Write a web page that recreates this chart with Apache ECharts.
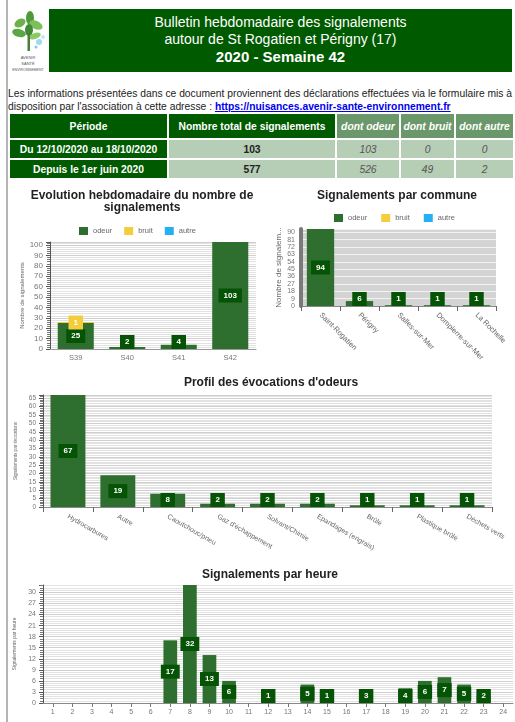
<!DOCTYPE html>
<html><head><meta charset="utf-8">
<script src="https://cdn.jsdelivr.net/npm/echarts/dist/echarts.min.js"></script>
<style>
html,body{margin:0;padding:0;background:#fff;}
body{width:515px;height:722px;overflow:hidden;position:relative;font-family:"Liberation Sans",Arial,sans-serif;}
#vline{position:absolute;left:6px;top:0;width:2px;height:722px;background:#b4b4b4;}
#logo{position:absolute;left:8px;top:9px;width:40px;height:63px;}
#banner{position:absolute;left:49px;top:9px;width:463px;height:63px;background:#005a00;color:#fff;text-align:center;font-size:14px;line-height:17px;box-sizing:border-box;padding-top:5px;}
#banner .b{font-weight:bold;font-size:15px;}
#intro{position:absolute;left:8px;top:87px;font-size:10.3px;line-height:13px;color:#222;white-space:nowrap;}
#intro a{color:#0000ee;font-weight:bold;text-decoration:underline;}
#stats{position:absolute;left:8px;top:112px;border-collapse:separate;border-spacing:2px;font-size:10.3px;table-layout:fixed;width:507px;}
#stats th,#stats td{padding:0;text-align:center;overflow:hidden;white-space:nowrap;}
#stats tr.h th{height:24px;}
#stats tr.r td{height:18px;}
.dk{background:#005a00;color:#fff;font-weight:bold;}
.md{background:#6a986a;color:#fff;font-weight:bold;font-style:italic;}
.lt{background:#b6cdb6;color:#222;}
.tot{font-weight:bold;}
.it{font-style:italic;color:#555;}
#chart{position:absolute;left:0;top:180px;width:515px;height:542px;}
</style></head>
<body>
<div id="vline"></div>
<svg id="logo" viewBox="0 0 40 63">
  <ellipse cx="12" cy="14" rx="6" ry="4" fill="#6fb04a" transform="rotate(-30 12 14)"/>
  <ellipse cx="22" cy="9" rx="4" ry="7" fill="#4e9a3a"/>
  <ellipse cx="28" cy="16" rx="7" ry="4" fill="#7cc05a" transform="rotate(25 28 16)"/>
  <ellipse cx="11" cy="24" rx="7" ry="4" fill="#5aa845" transform="rotate(15 11 24)"/>
  <ellipse cx="21" cy="21" rx="4" ry="6" fill="#3f8a33"/>
  <ellipse cx="27" cy="27" rx="6" ry="3" fill="#8acb66" transform="rotate(-20 27 27)"/>
  <rect x="19.5" y="24" width="2.5" height="18" fill="#4a7f3a"/>
  <circle cx="31" cy="33" r="3" fill="#9fd8f0"/>
  <circle cx="35" cy="28" r="2" fill="#c4e8f6"/>
  <circle cx="28" cy="38" r="1.5" fill="#7cc8ea"/>
  <text x="20" y="50" font-size="4" text-anchor="middle" fill="#556" font-family="Liberation Sans">AVENIR</text>
  <text x="20" y="56" font-size="4" text-anchor="middle" fill="#556" font-family="Liberation Sans">SANTÉ</text>
  <text x="20" y="62" font-size="3.6" text-anchor="middle" fill="#556" font-family="Liberation Sans">ENVIRONNEMENT</text>
</svg>
<div id="banner"></div>
<div id="intro">Les informations présentées dans ce document proviennent des déclarations effectuées via le formulaire mis à<br>disposition par l'association à cette adresse : <a href="#">https://nuisances.avenir-sante-environnement.fr</a></div>
<table id="stats"></table>
<div id="chart"></div>
<script>
// ---------- texts ----------
const bannerLines = ['Bulletin hebdomadaire des signalements', 'autour de St Rogatien et Périgny (17)', '2020 - Semaine 42'];
const tableHeaders = ['Période', 'Nombre total de signalements', 'dont odeur', 'dont bruit', 'dont autre'];
const periodLabels = ['Du 12/10/2020 au 18/10/2020', 'Depuis le 1er juin 2020'];
const totalCounts = [103, 577];
const odeurCounts = [103, 526];
const bruitCounts = [0, 49];
const autreCounts = [0, 2];

// ---------- chart data ----------
const weeks = ['S39', 'S40', 'S41', 'S42'];
const weekOdeur = [25, 2, 4, 103];
const weekBruit = [1, 0, 0, 0];
const weekAutre = [0, 0, 0, 0];

const communes = ['Saint-Rogatien', 'Périgny', 'Salles-sur-Mer', 'Dompierre-sur-Mer', 'La Rochelle'];
const communeOdeur = [94, 6, 1, 1, 1];
const communeBruit = [0, 0, 0, 0, 0];
const communeAutre = [0, 0, 0, 0, 0];

const odorTypes = ['Hydrocarbures', 'Autre', 'Caoutchouc/pneu', "Gaz d'échappement", 'Solvant/Chimie', 'Epandages (engrais)', 'Brûlé', 'Plastique brûlé', 'Déchets verts'];
const odorCounts = [67, 19, 8, 2, 2, 2, 1, 1, 1];

const hours = ['1','2','3','4','5','6','7','8','9','10','11','12','13','14','15','16','17','18','19','20','21','22','23','24'];
const hourCounts = [0, 0, 0, 0, 0, 0, 17, 32, 13, 6, 0, 1, 0, 5, 1, 0, 3, 0, 4, 6, 7, 5, 2, 0];

const legendNames = ['odeur', 'bruit', 'autre'];
const chartTitles = ['Evolution hebdomadaire du nombre de\nsignalements', 'Signalements par commune', "Profil des évocations d'odeurs", 'Signalements par heure'];
const axisNames = ['Nombre de signalements', 'Nombre de signalements', 'Signalements par évocations', 'Signalements par heure'];

// ---------- HTML parts ----------
document.getElementById('banner').innerHTML = bannerLines[0] + '<br>' + bannerLines[1] + '<br><span class="b">' + bannerLines[2] + '</span>';
let th = '<colgroup><col style="width:157px"><col style="width:166px"><col style="width:62px"><col style="width:53px"><col style="width:57px"></colgroup>';
th += '<tr class="h">' + tableHeaders.map((h, i) => '<th class="' + (i < 2 ? 'dk' : 'md') + '">' + h + '</th>').join('') + '</tr>';
periodLabels.forEach((p, r) => {
  th += '<tr class="r"><td class="dk">' + p + '</td><td class="lt tot">' + totalCounts[r] + '</td><td class="lt it">' + odeurCounts[r] +
        '</td><td class="lt it">' + bruitCounts[r] + '</td><td class="lt it">' + autreCounts[r] + '</td></tr>';
});
document.getElementById('stats').innerHTML = th;

// ---------- ECharts ----------
const GREEN = '#2e6e2e', LABELBG = '#055405', YELLOW = '#f4cd3c', BLUE = '#23b1f3';
const G = [
  {left: 50, top: 62, width: 206, height: 107},
  {left: 301, top: 49, width: 195, height: 77},
  {left: 43, top: 215, width: 449, height: 112},
  {left: 43, top: 405, width: 470, height: 118}
];
const sumArr = (...arrs) => arrs[0].map((_, i) => arrs.reduce((s, a) => s + a[i], 0));
const max1 = Math.max(...sumArr(weekOdeur, weekBruit, weekAutre));
const max2 = Math.max(...sumArr(communeOdeur, communeBruit, communeAutre));
const max3 = Math.max(...odorCounts);
const max4 = Math.max(...hourCounts);

function barData(values, axisMax, gridH, bg, clamp) {
  return values.map(v => ({
    value: v,
    label: {
      show: v > 0,
      position: (clamp && v / axisMax * gridH < 15) ? 'insideBottom' : 'inside',
      distance: 0,
      backgroundColor: bg,
      color: '#fff', fontSize: 8, fontWeight: 'bold', padding: [3, 5]
    }
  }));
}

function yAxis(gi, max, interval, name, nameGap, nameSize, labelSize, extra) {
  return Object.assign({
    gridIndex: gi, type: 'value', min: 0, max: max, interval: interval,
    name: name, nameLocation: 'middle', nameGap: nameGap,
    nameTextStyle: {fontSize: nameSize, color: '#666'},
    axisLine: {show: true, lineStyle: {color: '#555'}},
    axisTick: {show: true, length: 4, lineStyle: {color: '#555'}},
    minorTick: {show: true, splitNumber: 5, length: 3, lineStyle: {color: '#777'}},
    axisLabel: {fontSize: labelSize, color: '#777', margin: 7, showMaxLabel: false},
    splitLine: {show: true, lineStyle: {color: '#cfcfcf'}},
    minorSplitLine: {show: true, lineStyle: {color: '#e2e2e2'}}
  }, extra || {});
}

const option = {
  animation: false,
  textStyle: {fontFamily: 'Liberation Sans, Arial, sans-serif'},
  title: [
    {text: chartTitles[0], left: 137, top: 4, textAlign: 'center', textStyle: {fontSize: 12, fontWeight: 'bold', color: '#222', lineHeight: 12.5}},
    {text: chartTitles[1], left: 392, top: 5, textAlign: 'center', textStyle: {fontSize: 12, fontWeight: 'bold', color: '#222'}},
    {text: chartTitles[2], left: 266, top: 192, textAlign: 'center', textStyle: {fontSize: 12, fontWeight: 'bold', color: '#222'}},
    {text: chartTitles[3], left: 265, top: 384, textAlign: 'center', textStyle: {fontSize: 12, fontWeight: 'bold', color: '#222'}}
  ],
  legend: [
    {data: legendNames, left: 74, top: 42, itemWidth: 9, itemHeight: 8, itemGap: 12, icon: 'rect', textStyle: {fontSize: 7.5, color: '#666'}},
    {data: legendNames, left: 329, top: 29, itemWidth: 9, itemHeight: 8, itemGap: 14, icon: 'rect', textStyle: {fontSize: 7.5, color: '#666'}}
  ],
  grid: G.map(g => Object.assign({containLabel: false}, g)),
  xAxis: [
    {gridIndex: 0, type: 'category', data: weeks, axisTick: {show: false}, axisLine: {lineStyle: {color: '#999'}},
     axisLabel: {fontSize: 7.5, color: '#777', margin: 5}},
    {gridIndex: 1, type: 'category', data: communes, axisTick: {show: true, length: 5, lineStyle: {color: '#666'}}, axisLine: {lineStyle: {color: '#888'}},
     axisLabel: {fontSize: 7.5, color: '#666', margin: 8, rotate: -45, interval: 0}},
    {gridIndex: 2, type: 'category', data: odorTypes, axisTick: {show: true, length: 5, lineStyle: {color: '#666'}}, axisLine: {lineStyle: {color: '#888'}},
     axisLabel: {fontSize: 7, color: '#666', margin: 9, rotate: -30, interval: 0}},
    {gridIndex: 3, type: 'category', data: hours, axisTick: {show: true, length: 4, alignWithLabel: true, lineStyle: {color: '#777'}}, axisLine: {lineStyle: {color: '#888'}},
     axisLabel: {fontSize: 7, color: '#777', margin: 6, interval: 0}}
  ],
  yAxis: [
    yAxis(0, max1, 10, axisNames[0], 25, 6, 8),
    yAxis(1, max2, 9, axisNames[1], 18, 8, 7, {
      nameTruncate: {maxWidth: 84, ellipsis: '...'},
      axisLine: {show: true, lineStyle: {color: '#7a7a7a', width: 4}},
      axisTick: {show: false},
      minorTick: {show: false},
      axisLabel: {fontSize: 7, color: '#777', margin: 6, showMaxLabel: false},
      splitLine: {show: true, lineStyle: {color: '#f2f2f2'}},
      minorSplitLine: {show: false}
    }),
    yAxis(2, max3, 5, axisNames[2], 21, 4.5, 6.5),
    yAxis(3, max4, 3, axisNames[3], 20, 5, 7)
  ],
  series: [
    {name: 'odeur', type: 'bar', xAxisIndex: 0, yAxisIndex: 0, stack: 'w', barWidth: '70%', itemStyle: {color: GREEN},
     data: barData(weekOdeur, max1, G[0].height, LABELBG, true)},
    {name: 'bruit', type: 'bar', xAxisIndex: 0, yAxisIndex: 0, stack: 'w', barWidth: '70%', itemStyle: {color: YELLOW},
     data: barData(weekBruit, max1, G[0].height, YELLOW, false)},
    {name: 'autre', type: 'bar', xAxisIndex: 0, yAxisIndex: 0, stack: 'w', barWidth: '70%', itemStyle: {color: BLUE},
     data: barData(weekAutre, max1, G[0].height, BLUE, false)},
    {name: 'odeur', type: 'bar', xAxisIndex: 1, yAxisIndex: 1, stack: 'c', barWidth: '70%', itemStyle: {color: GREEN},
     data: barData(communeOdeur, max2, G[1].height, LABELBG, true)},
    {name: 'bruit', type: 'bar', xAxisIndex: 1, yAxisIndex: 1, stack: 'c', barWidth: '70%', itemStyle: {color: YELLOW},
     data: barData(communeBruit, max2, G[1].height, YELLOW, false)},
    {name: 'autre', type: 'bar', xAxisIndex: 1, yAxisIndex: 1, stack: 'c', barWidth: '70%', itemStyle: {color: BLUE},
     data: barData(communeAutre, max2, G[1].height, BLUE, false)},
    {name: 'évocations', type: 'bar', xAxisIndex: 2, yAxisIndex: 2, barWidth: '70%', itemStyle: {color: GREEN},
     data: barData(odorCounts, max3, G[2].height, LABELBG, true)},
    {name: 'heures', type: 'bar', xAxisIndex: 3, yAxisIndex: 3, barWidth: '70%', itemStyle: {color: GREEN},
     data: barData(hourCounts, max4, G[3].height, LABELBG, true)}
  ]
};
// gray background for the commune grid
option.grid[1].show = true;
option.grid[1].backgroundColor = '#d4d4d4';
option.grid[1].borderWidth = 0;

const chart = echarts.init(document.getElementById('chart'));
chart.setOption(option);
</script>
</body></html>
